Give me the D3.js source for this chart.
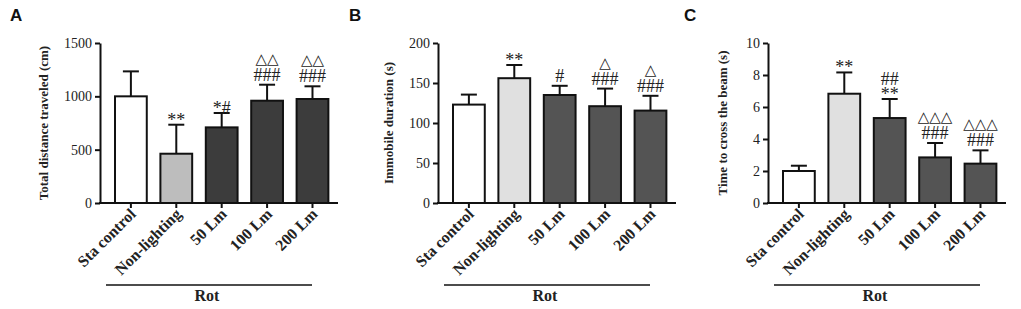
<!DOCTYPE html>
<html>
<head>
<meta charset="utf-8">
<script src="https://cdn.jsdelivr.net/npm/d3@7"></script>
<style>
  body { margin: 0; background: #fff; }
  svg { display: block; }
  .axis path, .axis line { stroke: #111; stroke-width: 2; }
  .ylab, .xlab, .rot { font-family: "Liberation Serif", "Times New Roman", serif; font-weight: bold; fill: #222; }
  .mark { font-family: "Liberation Serif", "DejaVu Sans", serif; fill: #222; }
  .letter { font-family: "Liberation Sans", Arial, sans-serif; font-weight: bold; font-size: 17px; fill: #111; }
</style>
</head>
<body>
<svg id="chart" width="1021" height="309"></svg>
<script>
/*** DATA ***/

let categories = ["Sta control", "Non-lighting", "50 Lm", "100 Lm", "200 Lm"];

let distance_mean = [1000, 462, 709, 959, 975],
    distance_err  = [234, 272, 135, 150, 119],
    distance_ticks = [0, 500, 1000, 1500],
    distance_marks = [[], ["**"], ["*#"], ["###", "△△"], ["###", "△△"]];

let immobile_mean = [123, 156, 135, 121, 115.5],
    immobile_err  = [12.5, 16.5, 11.5, 22, 18.5],
    immobile_ticks = [0, 50, 100, 150, 200],
    immobile_marks = [[], ["**"], ["#"], ["###", "△"], ["###", "△"]];

let beam_mean = [2.0, 6.83, 5.31, 2.85, 2.46],
    beam_err  = [0.33, 1.33, 1.19, 0.9, 0.83],
    beam_ticks = [0, 2, 4, 6, 8, 10],
    beam_marks = [[], ["**"], ["**", "##"], ["###", "△△△"], ["###", "△△△"]];

/*** SETUP ***/

let svg = d3.select("#chart");

let panels = [
    {letter: "A", lx: 10, axis_x: 100, title_dx: 52, title: "Total distance traveled (cm)", mean: distance_mean, err: distance_err,
     ticks: distance_ticks, marks: distance_marks, light: "#bdbdbd", dark: "#3c3c3c"},
    {letter: "B", lx: 349, axis_x: 438, title_dx: 45, title: "Immobile duration (s)", mean: immobile_mean, err: immobile_err,
     ticks: immobile_ticks, marks: immobile_marks, light: "#e0e0e0", dark: "#545454"},
    {letter: "C", lx: 684, axis_x: 768, title_dx: 41, title: "Time to cross the beam (s)", mean: beam_mean, err: beam_err,
     ticks: beam_ticks, marks: beam_marks, light: "#e0e0e0", dark: "#545454"}
];

let y_top = 43, y_bottom = 203;

function render_panel(p) {
    let g = svg.append("g");

    let x = d3.scaleBand()
        .domain(categories)
        .range([p.axis_x + 15, p.axis_x + 15 + 45.4 * 4.7])
        .paddingInner(0.3)
        .paddingOuter(0);

    let y = d3.scaleLinear()
        .domain([0, d3.max(p.ticks)])
        .range([y_bottom, y_top]);

    // panel letter
    g.append("text").classed("letter", true)
        .attr("x", p.lx).attr("y", 21)
        .text(p.letter);

    // bars
    g.selectAll("rect.bar")
        .data(categories).enter()
        .append("rect")
        .classed("bar", true)
        .attr("x", (d) => x(d))
        .attr("y", (d, i) => y(p.mean[i]))
        .attr("width", x.bandwidth())
        .attr("height", (d, i) => y(0) - y(p.mean[i]))
        .attr("fill", (d, i) => i === 0 ? "#fff" : (i === 1 ? p.light : p.dark))
        .attr("stroke", "#111")
        .attr("stroke-width", 2);

    // error bars (upper only)
    let cx = (d) => x(d) + x.bandwidth() / 2;
    g.selectAll("line.err")
        .data(categories).enter()
        .append("line")
        .attr("x1", cx).attr("x2", cx)
        .attr("y1", (d, i) => y(p.mean[i]))
        .attr("y2", (d, i) => y(p.mean[i] + p.err[i]))
        .attr("stroke", "#111").attr("stroke-width", 2);

    g.selectAll("line.cap")
        .data(categories).enter()
        .append("line")
        .attr("x1", (d) => cx(d) - 8).attr("x2", (d) => cx(d) + 8)
        .attr("y1", (d, i) => y(p.mean[i] + p.err[i]))
        .attr("y2", (d, i) => y(p.mean[i] + p.err[i]))
        .attr("stroke", "#111").attr("stroke-width", 2);

    // significance marks: one text per bar, lines stacked upward as tspans
    categories.forEach((c, i) => {
        if (!p.marks[i].length) return;
        let base = y(p.mean[i] + p.err[i]) - 4;
        let t = g.append("text").classed("mark", true)
            .attr("text-anchor", "middle");
        p.marks[i].forEach((m, j) => {
            let tri = m.indexOf("△") >= 0,
                star = m.startsWith("*");
            if (j === 0 && star) base += 5;
            t.append("tspan")
                .attr("x", cx(c))
                .attr("y", base)
                .style("font-size", tri ? "15px" : "18px")
                .style("font-family", tri ? "'DejaVu Sans', sans-serif" : null)
                .text(m);
            base -= star ? 15 : 17;
        });
    });

    // y axis
    let yaxis = g.append("g").classed("axis", true)
        .attr("transform", `translate(${p.axis_x}, 0)`)
        .call(d3.axisLeft(y).tickValues(p.ticks).tickFormat(d3.format("d"))
            .tickSize(5).tickSizeOuter(0).tickPadding(3));
    yaxis.selectAll(".tick text")
        .style("font-family", "'Liberation Serif', 'Times New Roman', serif")
        .style("font-size", "14px")
        .style("fill", "#222");

    // x axis line and ticks
    g.append("line")
        .attr("x1", p.axis_x - 1).attr("x2", p.axis_x + 238)
        .attr("y1", y_bottom).attr("y2", y_bottom)
        .attr("stroke", "#111").attr("stroke-width", 2);

    g.selectAll("line.xtick")
        .data(categories).enter()
        .append("line")
        .attr("x1", cx).attr("x2", cx)
        .attr("y1", y_bottom).attr("y2", y_bottom + 5)
        .attr("stroke", "#111").attr("stroke-width", 2);

    // x labels
    g.selectAll("text.xlab")
        .data(categories).enter()
        .append("text")
        .classed("xlab", true)
        .attr("transform", (d) => `translate(${cx(d) + 6}, 215) rotate(-45)`)
        .attr("text-anchor", "end")
        .style("font-size", "16px")
        .text((d) => d);

    // y title
    g.append("text").classed("ylab", true)
        .attr("transform", `translate(${p.axis_x - p.title_dx}, ${(y_top + y_bottom) / 2}) rotate(-90)`)
        .attr("text-anchor", "middle")
        .style("font-size", "13px")
        .text(p.title);

    // Rot group line
    g.append("line")
        .attr("x1", p.axis_x + 6).attr("x2", p.axis_x + 212)
        .attr("y1", 285).attr("y2", 285)
        .attr("stroke", "#111").attr("stroke-width", 1.5);

    g.append("text").classed("rot", true)
        .attr("x", p.axis_x + 107).attr("y", 301)
        .attr("text-anchor", "middle")
        .style("font-size", "16px")
        .text("Rot");
}

panels.forEach(render_panel);
</script>
</body>
</html>
